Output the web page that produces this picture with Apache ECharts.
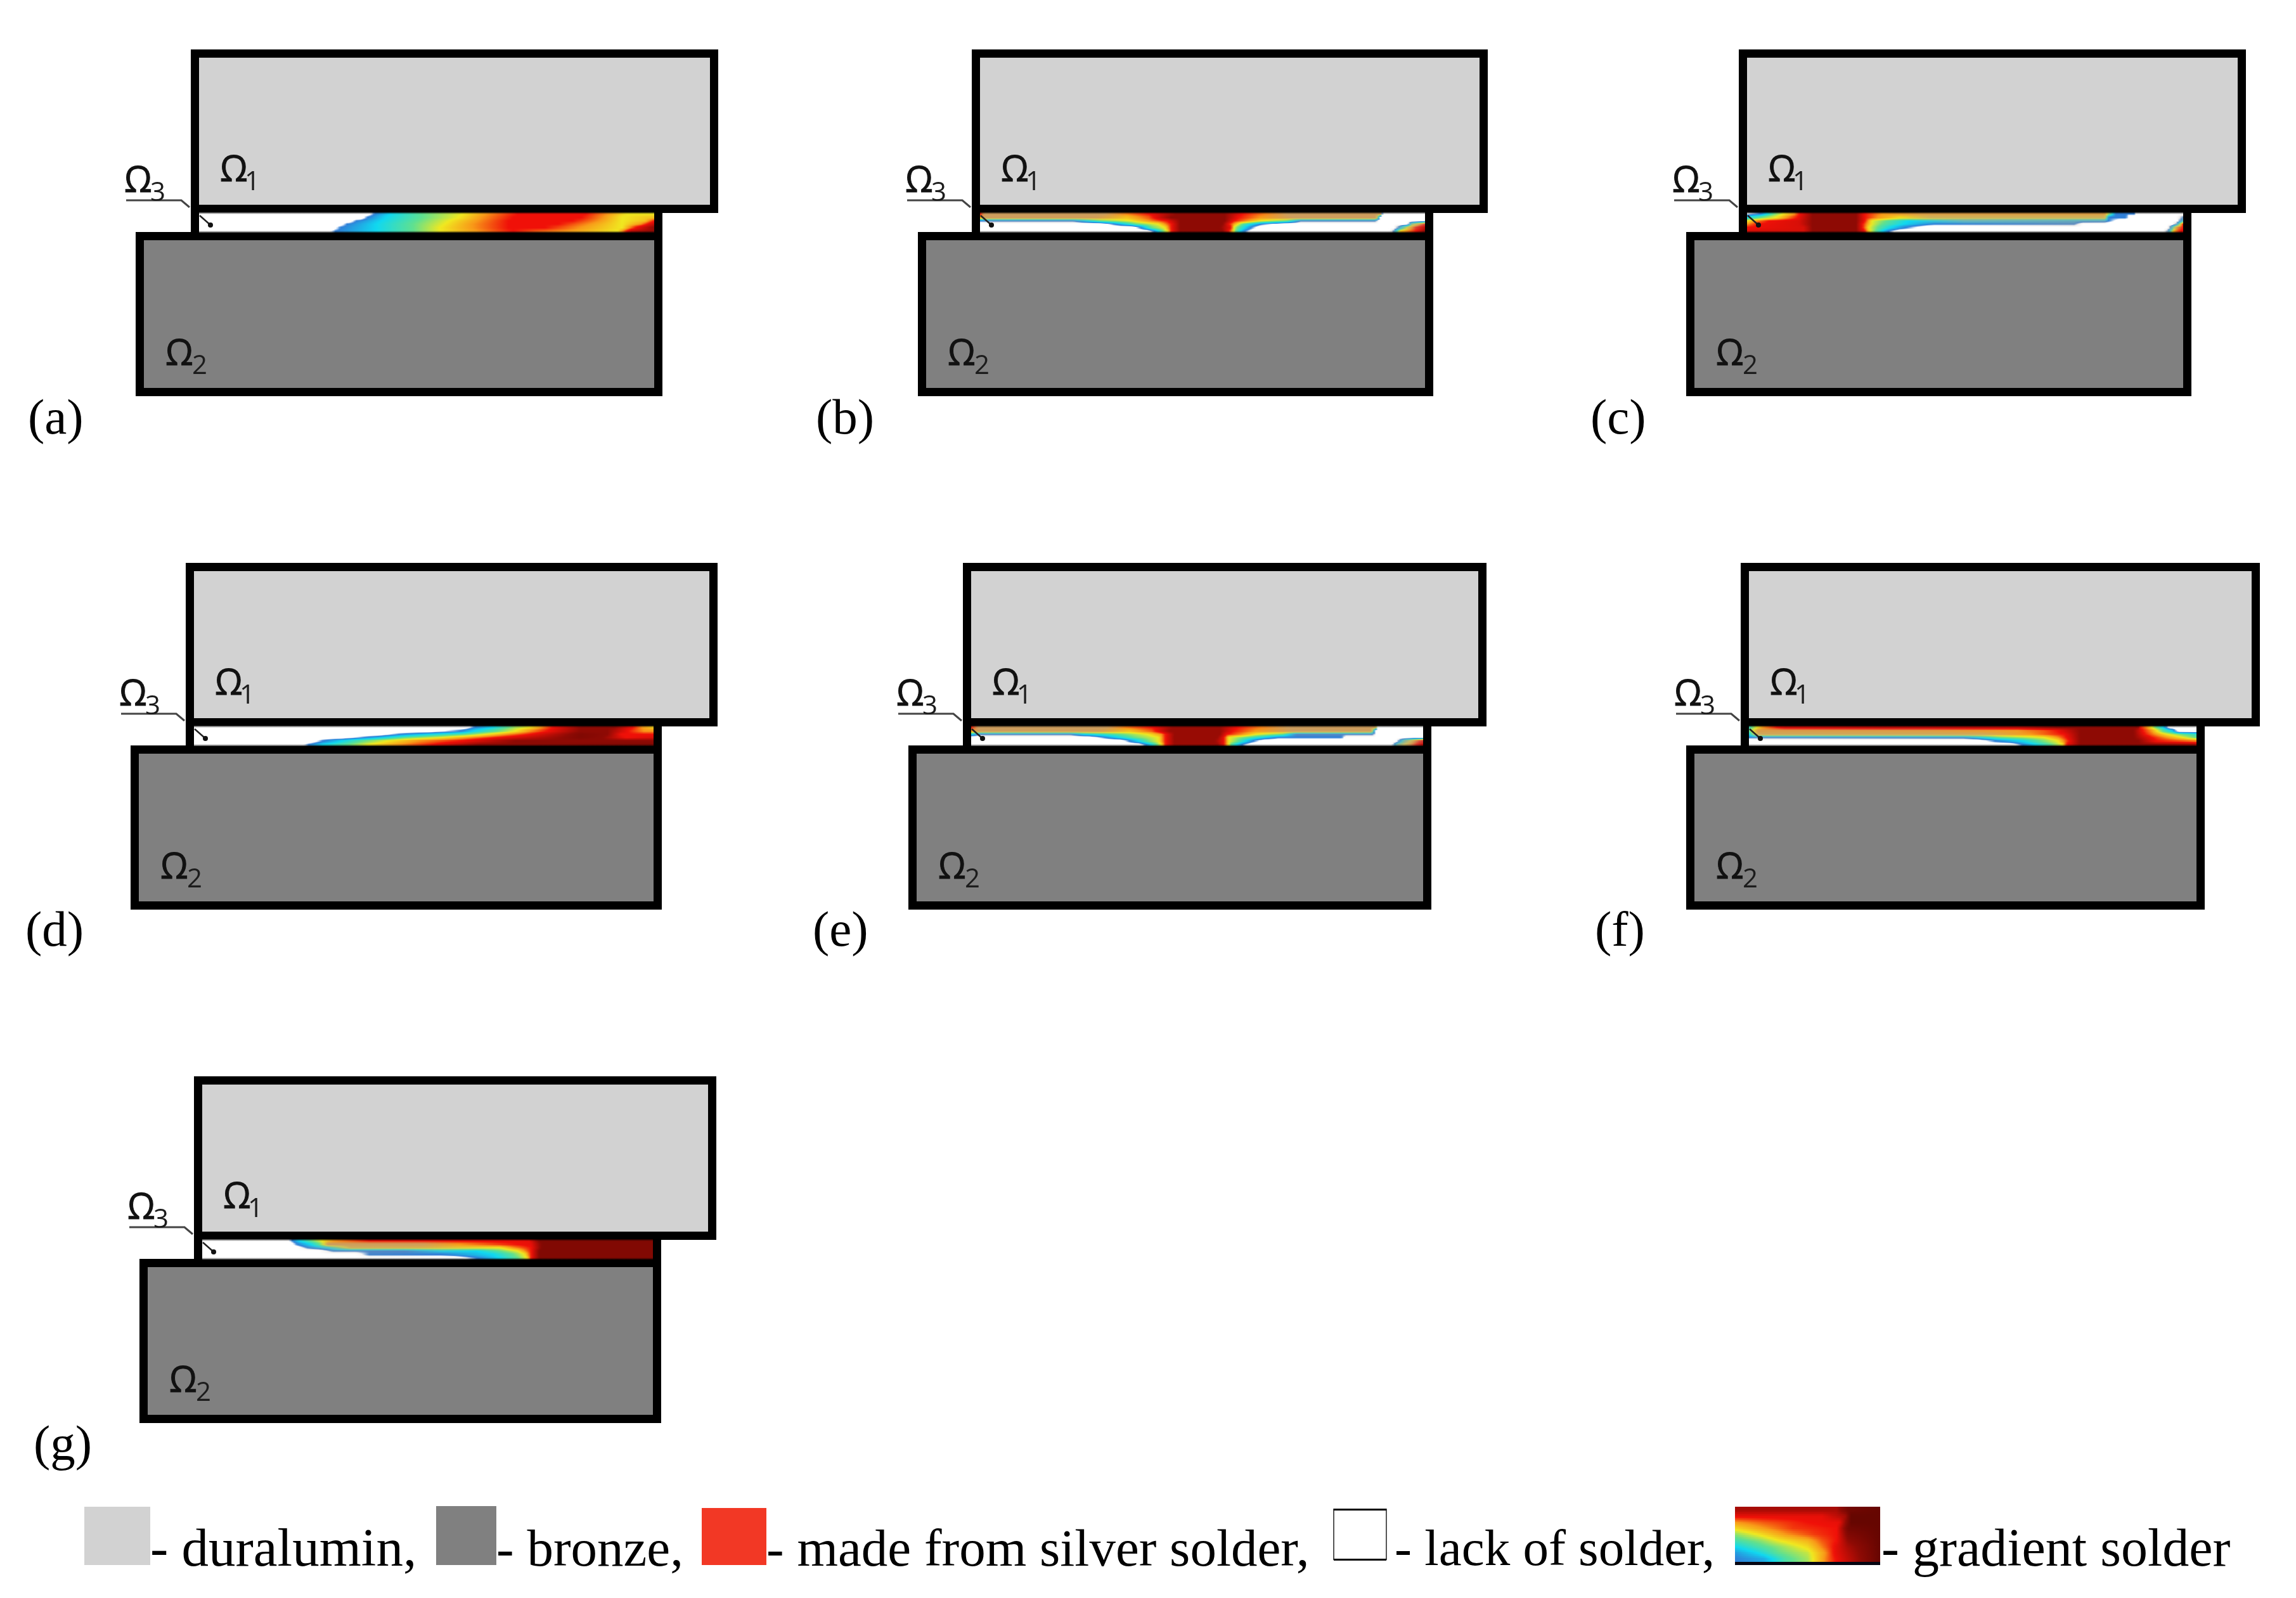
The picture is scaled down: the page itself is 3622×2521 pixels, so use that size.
<!DOCTYPE html>
<html>
<head>
<meta charset="utf-8">
<title>solder gap</title>
<script src="https://cdn.jsdelivr.net/npm/echarts@6/dist/echarts.min.js"></script>
<style>
html, body { margin: 0; padding: 0; background: #fff; }
#main { width: 3622px; height: 2521px; }
</style>
</head>
<body>
<div id="main"></div>
<script>
// block edges: [x0, y0, x1, y1]
const topBlocks = [
    [301, 78, 1133, 336], [1533, 78, 2347, 336], [2743, 78, 3543, 336],
    [293, 888, 1132, 1146], [1519, 888, 2345, 1146], [2746, 888, 3565, 1146],
    [306, 1698, 1130, 1956]
];
const bottomBlocks = [
    [214, 366, 1045, 625], [1448, 366, 2261, 625], [2660, 366, 3457, 625],
    [206, 1176, 1044, 1435], [1433, 1176, 2258, 1435], [2660, 1176, 3478, 1435],
    [220, 1986, 1043, 2245]
];
const panelNames = ['(a)', '(b)', '(c)', '(d)', '(e)', '(f)', '(g)'];
const panelNameX = [44, 1287, 2509, 40, 1282, 2516, 53];
const panelNameY = [663, 663, 663, 1471, 1471, 1471, 2282];

// solder field in the gap, six rows top to bottom, each row [x share, level, muting]
const fieldA = [
    [[0,0],[.37,0],[.385,.1],[.42,.2],[.49,.3],[.58,.4],[.63,.5],[.70,.6],[.85,.6],[.90,.5],[.94,.4],[1,.4]],
    [[0,0],[.355,0],[.37,.1],[.41,.2],[.49,.3],[.57,.4],[.62,.5],[.69,.6],[.84,.6],[.89,.5],[.93,.4],[1,.45]],
    [[0,0],[.33,0],[.345,.1],[.40,.2],[.48,.3],[.55,.4],[.61,.5],[.68,.6],[.82,.6],[.88,.5],[.93,.4],[.98,.45],[1,.6]],
    [[0,0],[.31,0],[.325,.1],[.39,.2],[.47,.3],[.54,.4],[.60,.5],[.68,.6],[.79,.6],[.86,.5],[.93,.4],[.97,.5],[1,.7]],
    [[0,0],[.295,0],[.31,.1],[.39,.2],[.47,.3],[.53,.4],[.60,.5],[.68,.6],[.76,.6],[.84,.5],[.93,.4],[.96,.6],[1,.8]],
    [[0,0],[.28,0],[.30,.1],[.39,.2],[.47,.3],[.53,.4],[.61,.5],[.69,.6],[.74,.55],[.81,.5],[.92,.4],[.95,.7],[1,.8]]
];
const fieldB = [
    [[0,.6],[.01,.5,.55],[.28,.5,.55],[.33,.52],[.38,.6],[.44,.8],[.55,.8],[.59,.6],[.64,.52],[.69,.5,.55],[.90,.5,.55],[.905,0],[1,0]],
    [[0,.5],[.01,.5,.55],[.26,.5,.5],[.33,.45],[.38,.55],[.43,.8],[.55,.8],[.58,.6],[.63,.5],[.70,.5,.55],[.89,.5,.55],[.90,0],[1,0]],
    [[0,.1],[.02,.1,.3],[.21,.1,.3],[.27,.3],[.34,.4],[.38,.5],[.42,.6],[.45,.8],[.55,.8],[.57,.6],[.60,.5],[.63,.4],[.69,.3],[.72,.1,.3],[.89,.1,.3],[.895,0],[1,0]],
    [[0,0],[.27,0],[.30,.1],[.35,.3],[.40,.4],[.43,.6],[.45,.8],[.545,.8],[.56,.6],[.57,.5],[.59,.3],[.635,.1],[.685,0],[.96,0],[.97,.3,.6],[1,.6,.4]],
    [[0,0],[.34,0],[.36,.1],[.385,.3],[.415,.4],[.43,.6],[.45,.8],[.54,.8],[.565,.6],[.57,.4],[.58,.3],[.61,.1],[.63,0],[.93,0],[.94,.1,.4],[.96,.4,.4],[.98,.6,.3],[1,.7]],
    [[0,0],[.375,0],[.39,.1],[.41,.3],[.42,.4],[.43,.6],[.45,.8],[.545,.8],[.56,.6],[.575,.3],[.595,.1],[.615,0],[.92,0],[.93,.1,.4],[.945,.45],[.98,.6],[1,.8]]
];
const fieldC = [
    [[0,.05],[.03,.1],[.06,.3],[.083,.4],[.108,.5],[.12,.6],[.15,.8],[.25,.8],[.27,.6],[.31,.5],[.40,.5,.35],[.82,.5,.35],[.845,.1],[.888,.1],[.895,0],[1,0]],
    [[0,.2],[.03,.3],[.066,.4],[.09,.5],[.116,.6],[.15,.8],[.25,.8],[.27,.6],[.30,.5],[.35,.42],[.42,.45,.5],[.82,.45,.5],[.83,.1],[.87,.1],[.875,0],[.985,0],[1,.1,.4]],
    [[0,.4],[.02,.5],[.05,.6],[.12,.65],[.15,.8],[.25,.8],[.27,.6],[.286,.4],[.32,.3],[.37,.2],[.50,.2,.6],[.82,.15,.5],[.83,.1],[.855,0],[.985,0],[1,.2,.5]],
    [[0,.5],[.025,.6],[.12,.65],[.15,.8],[.25,.8],[.265,.6],[.285,.4],[.31,.3],[.36,.2],[.43,.1],[.75,.1,.4],[.77,0],[.975,0],[.985,.1,.5],[1,.6]],
    [[0,.6],[.13,.65],[.15,.8],[.25,.8],[.265,.6],[.28,.4],[.30,.3],[.33,.2],[.365,.1],[.415,0],[.965,0],[.97,.1,.5],[.985,.5,.4],[1,.6]],
    [[0,.65],[.13,.65],[.15,.8],[.25,.8],[.27,.6],[.282,.4],[.295,.3],[.325,.1],[.35,0],[.955,0],[.965,.1,.5],[.98,.5],[1,.65]]
];
const fieldD = [
    [[0,0],[.59,0],[.61,.1],[.65,.2],[.70,.35],[.73,.4],[.755,.5],[.78,.6],[.84,.8],[.915,.8],[.955,.6],[.975,.5],[1,.43]],
    [[0,0],[.51,0],[.58,.1],[.61,.2],[.66,.3],[.70,.4],[.73,.5],[.77,.6],[.84,.8],[.90,.8],[.945,.6],[.98,.5],[1,.5]],
    [[0,0],[.40,0],[.445,.1],[.51,.2],[.59,.3],[.635,.4],[.68,.5],[.73,.6],[.84,.85],[.90,.8],[.93,.6],[1,.6]],
    [[0,0],[.32,0],[.37,.1],[.415,.2],[.46,.3],[.54,.4],[.60,.5],[.66,.6],[.84,.85],[.89,.8],[.94,.6],[1,.65]],
    [[0,0],[.255,0],[.28,.1],[.32,.2],[.365,.3],[.42,.4],[.485,.5],[.58,.6],[.70,.8],[1,.8]],
    [[0,0],[.23,0],[.25,.1],[.28,.2],[.335,.3],[.38,.4],[.445,.5],[.52,.6],[.62,.8],[1,.85]]
];
const fieldE = [
    [[0,.6],[.015,.5,.55],[.30,.5,.55],[.34,.52],[.40,.6],[.445,.78],[.55,.78],[.59,.6],[.64,.52],[.70,.5,.55],[.895,.5,.55],[.90,0],[1,0]],
    [[0,.5],[.015,.5,.55],[.28,.5,.5],[.35,.45],[.40,.55],[.44,.78],[.55,.78],[.58,.6],[.63,.5],[.71,.5,.55],[.885,.5,.55],[.895,0],[1,0]],
    [[0,.2],[.02,.1,.3],[.22,.1,.3],[.25,.2],[.33,.3],[.39,.4],[.42,.5],[.43,.6],[.45,.78],[.55,.78],[.565,.6],[.60,.5],[.63,.4],[.69,.3],[.72,.1,.3],[.89,.1,.3],[.895,0],[1,0]],
    [[0,0],[.26,0],[.295,.1],[.36,.3],[.415,.4],[.43,.6],[.45,.78],[.545,.78],[.56,.6],[.57,.4],[.61,.3],[.68,.1],[.82,.1],[.83,0],[1,0]],
    [[0,0],[.33,0],[.35,.1],[.39,.3],[.415,.4],[.43,.6],[.45,.78],[.54,.78],[.56,.6],[.57,.4],[.59,.3],[.625,.1],[.65,0],[.94,0],[.96,.3,.7],[.98,.5,.5],[1,.65,.3]],
    [[0,0],[.37,0],[.385,.1],[.41,.3],[.42,.4],[.43,.6],[.45,.78],[.545,.78],[.56,.6],[.575,.3],[.60,.1],[.62,0],[.93,0],[.945,.3,.7],[.97,.5,.5],[1,.7]]
];
const fieldF = [
    [[0,.25],[.03,.5],[.08,.65],[.30,.7],[.60,.7],[.69,.8],[.87,.8],[.875,.6],[.89,.5],[.91,.3],[.925,.2],[.94,0],[1,0]],
    [[0,.3],[.02,.5,.4],[.40,.5,.35],[.60,.5,.1],[.66,.55],[.69,.6],[.74,.8],[.86,.8],[.88,.6],[.90,.5],[.925,.3],[.945,.2],[.96,0],[1,0]],
    [[0,.2],[.02,.47,.55],[.52,.47,.55],[.63,.5],[.705,.6],[.74,.8],[.86,.8],[.885,.6],[.91,.5],[.935,.4],[.97,.3],[1,.25]],
    [[0,.1],[.02,.1,.3],[.48,.12,.3],[.56,.3],[.66,.4],[.69,.5],[.71,.6],[.74,.8],[.86,.8],[.90,.6],[.935,.5],[.97,.4],[1,.3]],
    [[0,0],[.51,0],[.55,.1],[.61,.2],[.65,.3],[.69,.4],[.715,.6],[.74,.8],[.87,.8],[.91,.6],[1,.52]],
    [[0,0],[.585,0],[.61,.1],[.64,.2],[.675,.3],[.70,.4],[.71,.6],[.74,.8],[.87,.8],[1,.75]]
];
const fieldG = [
    [[0,0],[.185,0],[.20,.1],[.215,.2],[.24,.3],[.265,.4],[.29,.5],[.37,.6],[.725,.62],[.75,.85],[1,.85]],
    [[0,0],[.195,0],[.21,.1],[.24,.2],[.26,.3],[.28,.5,.55],[.49,.5,.5],[.57,.5],[.70,.6],[.73,.62],[.755,.85],[1,.85]],
    [[0,0],[.21,0],[.234,.1,.2],[.28,.2,.4],[.33,.45,.55],[.49,.45,.4],[.66,.4],[.69,.5],[.73,.6],[.755,.85],[1,.85]],
    [[0,0],[.26,0],[.29,.1,.3],[.45,.1,.3],[.53,.2,.2],[.61,.2],[.66,.3],[.70,.4],[.73,.6],[.75,.85],[1,.85]],
    [[0,0],[.34,0],[.37,.1,.2],[.53,.1],[.645,.2],[.69,.3],[.715,.4],[.73,.6],[.75,.85],[1,.85]],
    [[0,0],[.56,0],[.61,.1],[.66,.2],[.70,.3],[.72,.4],[.73,.6],[.75,.85],[1,.85]]
];
const gapFields = [fieldA, fieldB, fieldC, fieldD, fieldE, fieldF, fieldG];

// legend
const legendSwatches = [[133, 2377, 237, 2469, '#d2d2d2'], [688, 2376, 783, 2469, '#808080'], [1107, 2379, 1209, 2469, '#f23825']];
const legendBlank = [2104, 2381, 2187, 2460];
const legendField = [2737, 2377, 2966, 2464];
const legendRows = [
    [[0,.75],[.3,.75],[.7,.75],[.78,.9],[1,.95]],
    [[0,.62],[.3,.62],[.6,.62],[.76,.75],[.8,.95],[1,.95]],
    [[0,.5],[.2,.55],[.5,.6],[.72,.62],[.8,.95],[1,.95]],
    [[0,.42],[.15,.48],[.4,.57],[.7,.6],[.78,.9],[1,.95]],
    [[0,.33],[.15,.4],[.35,.5],[.55,.57],[.7,.6],[.78,.85],[1,.95]],
    [[0,.27],[.17,.33],[.3,.4],[.5,.47],[.6,.55],[.7,.6],[.78,.8],[1,.95]],
    [[0,.2],[.15,.27],[.3,.33],[.5,.42],[.6,.52],[.68,.6],[.78,.75],[1,.95]],
    [[0,.13],[.15,.2],[.3,.3],[.5,.37],[.62,.5],[.68,.6],[.78,.72],[1,.95]],
    [[0,.1],[.2,.15],[.35,.28],[.5,.35],[.65,.55],[.78,.7],[1,.95]]
];
const legendTexts = ['- duralumin,', '- bronze,', '- made from silver solder,', '- lack of solder,', '- gradient solder'];
const legendTextX = [237, 783, 1209, 2200, 2968];
const legendTextSize = [85, 83, 83, 81, 84];

// level -> colour, the jet-like scale of the solder field
const levelStops = [
    [0, [255,255,255]], [.05, [255,255,255]], [.1, [47,127,216]], [.2, [16,216,240]],
    [.3, [95,224,144]], [.4, [240,232,32]], [.5, [248,154,24]], [.6, [240,16,8]],
    [.8, [142,10,4]], [1, [88,4,0]]
];

function levelColor(v, m) {
    let i = 0;
    while (i < levelStops.length - 2 && v > levelStops[i + 1][0]) i++;
    let a = levelStops[i], b = levelStops[i + 1];
    let t = Math.min(1, Math.max(0, (v - a[0]) / (b[0] - a[0])));
    let c = a[1].map((p, k) => p + (b[1][k] - p) * t);
    let grey = [170, 160, 150];
    c = c.map((p, k) => Math.round(p + (grey[k] - p) * (m || 0)));
    return 'rgb(' + c.join(',') + ')';
}

// level and muting of a read row at share x
function rowAt(row, x) {
    let i = 0;
    while (i < row.length - 2 && x > row[i + 1][0]) i++;
    let a = row[i], b = row[i + 1];
    let t = Math.min(1, Math.max(0, (x - a[0]) / (b[0] - a[0])));
    return [a[1] + (b[1] - a[1]) * t, (a[2] || 0) + ((b[2] || 0) - (a[2] || 0)) * t];
}

// one thin painted strip, blended between the two read rows around it so the paint has no steps
function stripStops(rows, share, columns) {
    let pos = Math.min(rows.length - 1, Math.max(0, share * rows.length - 0.5));
    let i = Math.min(rows.length - 2, Math.floor(pos));
    let t = pos - i;
    let stops = [];
    for (let c = 0; c <= columns; c++) {
        let x = c / columns;
        let a = rowAt(rows[i], x), b = rowAt(rows[i + 1], x);
        stops.push({ offset: x, color: levelColor(a[0] + (b[0] - a[0]) * t, a[1] + (b[1] - a[1]) * t) });
    }
    return stops;
}

const WALL = 13;
const stripTable = [];
function addStrips(rows, x0, y0, x1, y1, count, columns) {
    let h = (y1 - y0) / count;
    for (let s = 0; s < count; s++) {
        stripTable.push({ rect: [x0, y0 + h * s, x1, y0 + h * (s + 1)], stops: stripStops(rows, (s + 0.5) / count, columns) });
    }
}
gapFields.forEach((rows, p) => {
    addStrips(rows, topBlocks[p][0] + WALL, topBlocks[p][3] - 1, bottomBlocks[p][2] - WALL, bottomBlocks[p][1] + 1, 30, 240);
});
addStrips(legendRows, legendField[0], legendField[1], legendField[2], legendField[3], 58, 80);

function drawStrip(params, api) {
    let item = stripTable[params.dataIndex];
    let a = api.coord([item.rect[0], item.rect[1]]);
    let b = api.coord([item.rect[2], item.rect[3]]);
    let y0 = Math.round(a[1]), y1 = Math.round(b[1]);
    return {
        type: 'rect',
        shape: { x: a[0], y: y0, width: b[0] - a[0], height: Math.max(1, y1 - y0) },
        style: { fill: new echarts.graphic.LinearGradient(0, 0, 1, 0, item.stops) }
    };
}

function drawBlock(fill) {
    return function(params, api) {
        let a = api.coord([api.value(0), api.value(1)]);
        let b = api.coord([api.value(2), api.value(3)]);
        let half = WALL / 2;
        return {
            type: 'rect',
            shape: { x: a[0] + half, y: a[1] + half, width: b[0] - a[0] - WALL, height: b[1] - a[1] - WALL },
            style: { fill: fill, stroke: '#000', lineWidth: WALL, lineJoin: 'miter' }
        };
    };
}

// walls closing the gap, leader line and omega labels for one panel
function drawPanelMarks(params, api) {
    let p = params.dataIndex;
    let t = topBlocks[p], b = bottomBlocks[p];
    let at = (x, y) => api.coord([x, y]);
    let kids = [];
    let wall = (x) => {
        let q = at(x, t[3] - 2), r = at(x + WALL, b[1] + 6);
        kids.push({ type: 'rect', shape: { x: q[0], y: q[1], width: r[0] - q[0], height: r[1] - q[1] }, style: { fill: '#000' } });
    };
    wall(t[0]);
    wall(b[2] - WALL);

    // soft dark edge where the field meets the blocks
    let e0 = at(t[0] + WALL, t[3] - 1), e1 = at(b[2] - WALL, b[1] + 1);
    let edge = (y, h, from, to) => kids.push({
        type: 'rect',
        shape: { x: e0[0], y: y, width: e1[0] - e0[0], height: h },
        style: { fill: new echarts.graphic.LinearGradient(0, 0, 0, 1, [{ offset: 0, color: from }, { offset: 1, color: to }]) }
    });
    edge(e0[1], 3, 'rgba(0,0,0,0.75)', 'rgba(0,0,0,0)');
    edge(e1[1] - 3, 3, 'rgba(0,0,0,0)', 'rgba(0,0,0,0.75)');

    let ly = t[3] - 20;
    let line = (pts, w, col) => kids.push({
        type: 'polyline',
        shape: { points: pts.map(d => at(t[0] + d[0], ly + d[1])) },
        style: { stroke: col, lineWidth: w, fill: null }
    });
    line([[-102, 0], [-15, 0], [-2, 11]], 3, '#444');
    line([[14, 24], [31, 39]], 2.5, '#222');
    let dot = at(t[0] + 31, ly + 39);
    kids.push({ type: 'circle', shape: { cx: dot[0], cy: dot[1], r: 4 }, style: { fill: '#111' } });

    let omega = (x, y, sub, dx) => {
        let q = at(x, y);
        kids.push({ type: 'text', style: { text: '\u03a9', x: q[0], y: q[1], font: '56px "Open Sans"', fill: '#111', stroke: '#111', lineWidth: 1, verticalAlign: 'middle' } });
        kids.push({ type: 'text', style: { text: sub, x: q[0] + dx, y: q[1] + 18, font: '42px "Open Sans"', fill: '#1c1c1c', verticalAlign: 'middle' } });
    };
    omega(t[0] + 46, t[3] - 66, '1', 39);
    omega(b[0] + 47, b[1] + 194, '2', 42);
    omega(t[0] - 105, t[3] - 49, '3', 41);
    return { type: 'group', children: kids };
}

function drawTextItem(params, api) {
    let q = api.coord([api.value(0), api.value(1)]);
    return { type: 'text', style: { text: api.value(2), x: q[0], y: q[1], font: api.value(3) + 'px "Liberation Serif"', fill: '#000', verticalAlign: 'middle' } };
}

function drawSwatch(params, api) {
    let a = api.coord([api.value(0), api.value(1)]);
    let b = api.coord([api.value(2), api.value(3)]);
    return { type: 'rect', shape: { x: a[0], y: a[1], width: b[0] - a[0], height: b[1] - a[1] }, style: { fill: legendSwatches[params.dataIndex][4] } };
}

function drawLegendExtras(params, api) {
    let a = api.coord([legendBlank[0], legendBlank[1]]);
    let b = api.coord([legendBlank[2], legendBlank[3]]);
    let f = api.coord([legendField[0], legendField[3]]);
    let g = api.coord([legendField[2], legendField[3]]);
    return {
        type: 'group',
        children: [
            { type: 'rect', shape: { x: a[0], y: a[1], width: b[0] - a[0], height: b[1] - a[1] }, style: { fill: '#fff', stroke: '#555', lineWidth: 2 } },
            { type: 'rect', shape: { x: a[0], y: a[1] - 1, width: b[0] - a[0], height: 3 }, style: { fill: '#000' } },
            { type: 'rect', shape: { x: a[0], y: b[1] - 1, width: b[0] - a[0], height: 3 }, style: { fill: '#000' } },
            { type: 'rect', shape: { x: f[0], y: f[1], width: g[0] - f[0], height: 5 }, style: { fill: '#060612' } }
        ]
    };
}

const chart = echarts.init(document.getElementById('main'), null, { renderer: 'canvas' });
chart.setOption({
    animation: false,
    backgroundColor: '#fff',
    grid: { left: 0, right: 0, top: 0, bottom: 0 },
    xAxis: { type: 'value', min: 0, max: 3622, show: false },
    yAxis: { type: 'value', min: 0, max: 2521, inverse: true, show: false },
    series: [
        { type: 'custom', clip: false, silent: true, z: 2, renderItem: drawBlock('#d2d2d2'), data: topBlocks, encode: { x: [0, 2], y: [1, 3] } },
        { type: 'custom', clip: false, silent: true, z: 2, renderItem: drawBlock('#808080'), data: bottomBlocks, encode: { x: [0, 2], y: [1, 3] } },
        { type: 'custom', clip: false, silent: true, z: 3, renderItem: drawStrip, data: stripTable.map(d => d.rect) },
        { type: 'custom', clip: false, silent: true, z: 4, renderItem: drawPanelMarks, data: topBlocks },
        { type: 'custom', clip: false, silent: true, z: 4, renderItem: drawTextItem, data: panelNames.map((n, i) => [panelNameX[i], panelNameY[i], n, 79]) },
        { type: 'custom', clip: false, silent: true, z: 4, renderItem: drawSwatch, data: legendSwatches.map(d => d.slice(0, 4)) },
        { type: 'custom', clip: false, silent: true, z: 4, renderItem: drawLegendExtras, data: [legendBlank] },
        { type: 'custom', clip: false, silent: true, z: 4, renderItem: drawTextItem, data: legendTexts.map((n, i) => [legendTextX[i], 2448, n, legendTextSize[i]]) }
    ]
});
</script>
</body>
</html>
